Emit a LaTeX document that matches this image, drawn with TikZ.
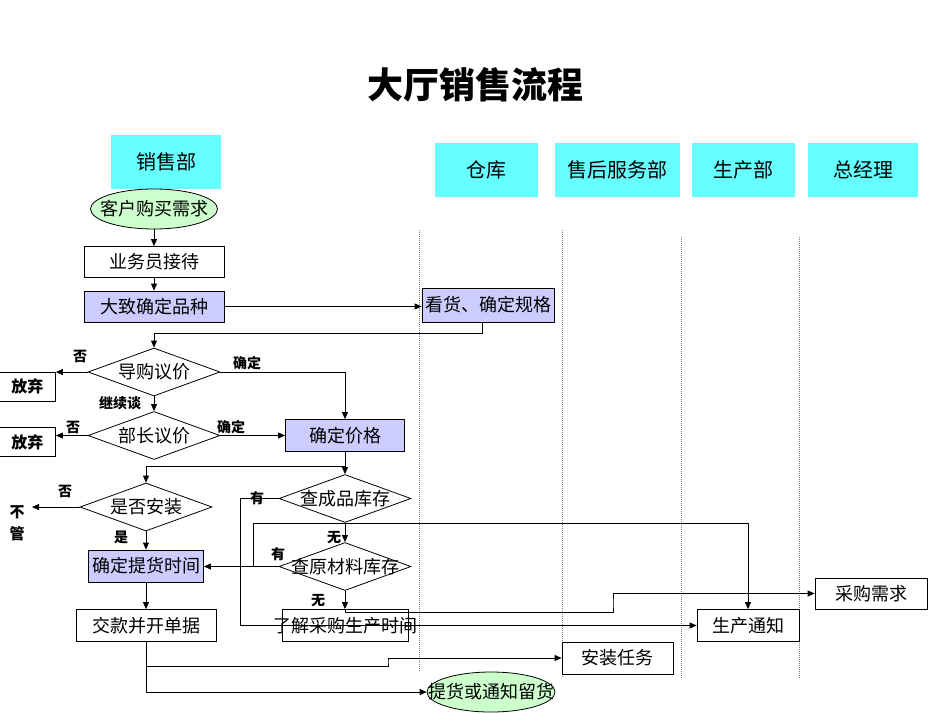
\documentclass[tikz,border=0pt]{standalone}
\usepackage{fontspec}
\setmainfont{Noto Sans CJK SC}
\usetikzlibrary{shapes.geometric,arrows.meta}
\definecolor{hcyan}{HTML}{66FFFF}
\definecolor{lav}{HTML}{CCCCFF}
\definecolor{lgreen}{HTML}{CCFFCC}
\newcommand{\zbox}[1]{\makebox[0pt]{#1}}
\begin{document}
\begin{tikzpicture}[x=1pt,y=-1pt,
  line width=0.8pt,
  hdr/.style={fill=hcyan, minimum height=54pt, inner sep=0, font=\fontsize{20}{20}\selectfont},
  box/.style={draw, rectangle, inner sep=0, minimum height=31pt, font=\fontsize{18}{18}\selectfont},
  lbox/.style={box, fill=lav},
  oval/.style={draw, ellipse, fill=lgreen, inner sep=0, minimum height=40pt, font=\fontsize{18}{18}\selectfont},
  dia/.style={draw, diamond, inner sep=0, minimum width=132pt, minimum height=48pt, font=\fontsize{18}{18}\selectfont},
  lbl/.style={inner sep=0, font=\fontsize{14}{14}\selectfont\bfseries},
  lane/.style={gray, line width=0.8pt, dash pattern=on 1pt off 1pt},
  arr/.style={-{Triangle[length=7pt,width=6pt]}},
]
\useasboundingbox (0,0) rectangle (950,713);

% title
\node[inner sep=0, font=\fontsize{36}{36}\selectfont\bfseries] (title) at (475,85) {大厅销售流程};

% headers
\node[hdr, minimum width=110pt] (hxs) at (166,162) {销售部};
\node[hdr, minimum width=103pt] (hck) at (486.5,170) {仓库};
\node[hdr, minimum width=125pt] (hsh) at (617.5,170) {售后服务部};
\node[hdr, minimum width=103pt] (hsc) at (743.5,170) {生产部};
\node[hdr, minimum width=110pt] (hzj) at (863,170) {总经理};

% lanes
\draw[lane] (419,230) -- (419,672);
\draw[lane] (562,230) -- (562,678);
\draw[lane] (681,237) -- (681,678);
\draw[lane] (799,237) -- (799,678);

% sales column
\node[oval, minimum width=127pt] (kh) at (154,209) {\zbox{客户购买需求}};
\node[box, minimum width=140pt] (ywy) at (154,262) {业务员接待};
\node[lbox, minimum width=140pt] (dz) at (154,306.5) {大致确定品种};
\node[lbox, minimum width=132pt, minimum height=34pt] (kh2) at (488,305) {看货、确定规格};

\node[dia] (d1) at (154,372) {\zbox{导购议价}};
\node[dia] (d2) at (154,435.5) {\zbox{部长议价}};
\node[box, minimum width=56pt, minimum height=29pt, font=\fontsize{16}{16}\selectfont\bfseries] (fq1) at (27.5,386.5) {放弃};
\node[box, minimum width=56pt, minimum height=29pt, font=\fontsize{16}{16}\selectfont\bfseries] (fq2) at (27.5,442) {放弃};
\node[lbox, minimum width=119pt, minimum height=32pt] (qdjg) at (345,435.5) {确定价格};

\node[dia] (d3) at (146,507) {\zbox{是否安装}};
\node[lbox, minimum width=115pt, minimum height=32pt] (qdth) at (146,566) {确定提货时间};
\node[box, minimum width=140pt, minimum height=32pt] (jk) at (146,625.5) {交款并开单据};

\node[dia] (d5) at (345,498.5) {\zbox{查成品库存}};
\node[dia] (d6) at (345,566.5) {\zbox{查原材料库存}};
\node[box, minimum width=126pt, minimum height=32pt] (ljcg) at (345,625.5) {\zbox{了解采购生产时间}};

\node[box, minimum width=102pt, minimum height=32pt] (sctz) at (748,625.5) {生产通知};
\node[box, minimum width=112pt, minimum height=31pt] (cgxq) at (871,593.5) {采购需求};
\node[box, minimum width=111pt, minimum height=32pt] (azrw) at (617.5,658) {安装任务};
\node[oval, minimum width=128pt] (thtz) at (491,692) {\zbox{提货或通知留货}};

% labels
\node[lbl] (l1) at (80,356) {否};
\node[lbl] (l2) at (247,363) {确定};
\node[lbl] (l3) at (120,403) {继续谈};
\node[lbl] (l4) at (73,427) {否};
\node[lbl] (l5) at (231,427) {确定};
\node[lbl] (l6) at (65,491) {否};
\node[lbl, align=center, font=\fontsize{15}{22}\selectfont\bfseries] (bg) at (17,523) {不\\管};
\node[lbl] (l7) at (121,537) {是};
\node[lbl] (l8) at (257,498) {有};
\node[lbl] (l9) at (334,538) {无};
\node[lbl] (l10) at (278,554) {有};
\node[lbl] (l11) at (318,601) {无};
\coordinate (bgtip) at (32,507);

% connectors
\draw[arr] (kh.south) -- (ywy.north);
\draw[arr] (ywy.south) -- (dz.north);
\draw[arr] (dz.east) -- (dz.east -| kh2.west);
\draw[arr] ([xshift=-6pt]kh2.south) -- ++(0,11) -| (d1.north);
\draw[arr] (d1.west) -- (d1.west -| fq1.east);
\draw[arr] (d1.east) -| (qdjg.north);
\draw[arr] (d1.south) -- (d2.north);
\draw[arr] (d2.west) -- (d2.west -| fq2.east);
\draw[arr] (d2.east) -- (qdjg.west);
\draw (qdjg.south) -- ++(0,14) coordinate (j1);
\draw[arr] (j1) -| (d3.north);
\draw[arr] (j1) -- (d5.north);
\draw[arr] (d3.west) -- (bgtip);
\draw[arr] (d3.south) -- (qdth.north);
\draw[arr] (qdth.south) -- (jk.north);
\draw[arr] (d5.south) -- (d6.north);
\draw[arr] (d6.west) -- (d6.west -| qdth.east);
\draw[arr] (d6.south) -- (ljcg.north);
\draw[arr] (d5.west) -- ++(-38,0) |- (sctz.west);
\draw[arr] ([xshift=-25pt]d6.west) -- ++(0,-43) -| (sctz.north);
\coordinate (s1) at (613,603);
\draw[arr] (ljcg.north) -- ++(0,3) -| (s1) |- (cgxq.west);
\coordinate (s2) at (388,661);
\draw[arr] (jk.south) -- ++(0,24) -| (s2) |- (azrw.west);
\draw[arr] (jk.south) |- (thtz.west);
\end{tikzpicture}
\end{document}
